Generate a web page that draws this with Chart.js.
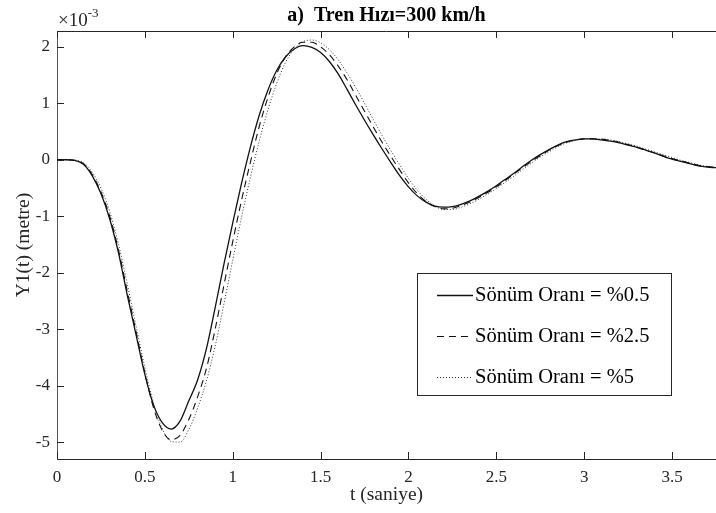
<!doctype html>
<html>
<head>
    <title>Tren Hızı=300 km/h</title>
    <meta charset="utf-8">
    <script src="https://cdn.jsdelivr.net/npm/chart.js@4.4.1/dist/chart.umd.min.js"></script>
    <style>
    body { margin: 0; background: #fff; }
    canvas { display: block; }
    </style>
</head>
<body>
    <canvas id="canvasY1" width="716" height="513"></canvas>
    <script>
        // t (saniye)
        var zaman = [0.00, 0.05, 0.10, 0.15, 0.20, 0.25, 0.30, 0.35, 0.40, 0.45,
                     0.50, 0.55, 0.60, 0.65, 0.70, 0.75, 0.80, 0.85, 0.90, 0.95,
                     1.00, 1.05, 1.10, 1.15, 1.20, 1.25, 1.30, 1.35, 1.40, 1.45,
                     1.50, 1.55, 1.60, 1.65, 1.70, 1.75, 1.80, 1.85, 1.90, 1.95,
                     2.00, 2.05, 2.10, 2.15, 2.20, 2.25, 2.30, 2.35, 2.40, 2.45,
                     2.50, 2.55, 2.60, 2.65, 2.70, 2.75, 2.80, 2.85, 2.90, 2.95,
                     3.00, 3.05, 3.10, 3.15, 3.20, 3.25, 3.30, 3.35, 3.40, 3.45,
                     3.50, 3.55, 3.60, 3.65, 3.70, 3.75];

        // Y1(t) x 10^-3 metre, sönüm oranı %0.5
        var sonum05 = [0, 0, -0.01, -0.08, -0.28, -0.6, -1.05, -1.65, -2.4, -3.1,
                       -3.8, -4.35, -4.66, -4.77, -4.63, -4.27, -3.9, -3.35, -2.62, -1.85,
                       -1.12, -0.42, 0.22, 0.78, 1.23, 1.58, 1.82, 1.96, 2.02, 1.99,
                       1.9, 1.74, 1.52, 1.25, 0.97, 0.7, 0.44, 0.19, -0.05, -0.28,
                       -0.48, -0.64, -0.75, -0.82, -0.84, -0.83, -0.79, -0.73, -0.65, -0.56,
                       -0.46, -0.35, -0.24, -0.12, -0.01, 0.09, 0.18, 0.26, 0.32, 0.35,
                       0.37, 0.37, 0.35, 0.33, 0.3, 0.26, 0.22, 0.17, 0.12, 0.06,
                       0.01, -0.03, -0.07, -0.11, -0.13, -0.14];

        // sönüm oranı %2.5
        var sonum25 = [0, 0, -0.01, -0.07, -0.26, -0.57, -1.0, -1.6, -2.33, -3.05,
                       -3.78, -4.4, -4.8, -4.96, -4.88, -4.6, -4.2, -3.7, -3.0, -2.22,
                       -1.45, -0.72, -0.05, 0.58, 1.1, 1.52, 1.82, 2.0, 2.08, 2.08,
                       2.0, 1.86, 1.66, 1.42, 1.14, 0.86, 0.58, 0.31, 0.06, -0.18,
                       -0.41, -0.6, -0.74, -0.83, -0.87, -0.86, -0.81, -0.75, -0.67, -0.58,
                       -0.48, -0.37, -0.25, -0.14, -0.03, 0.07, 0.17, 0.25, 0.31, 0.35,
                       0.37, 0.37, 0.36, 0.34, 0.31, 0.27, 0.22, 0.17, 0.12, 0.07,
                       0.02, -0.02, -0.06, -0.1, -0.12, -0.14];

        // sönüm oranı %5
        var sonum5 = [0, 0, -0.01, -0.05, -0.22, -0.5, -0.92, -1.5, -2.2, -2.95,
                      -3.68, -4.32, -4.77, -4.99, -5.0, -4.78, -4.4, -3.92, -3.3, -2.55,
                      -1.78, -1.02, -0.32, 0.32, 0.88, 1.35, 1.72, 1.96, 2.09, 2.12,
                      2.07, 1.95, 1.77, 1.54, 1.28, 1.0, 0.71, 0.43, 0.16, -0.09,
                      -0.33, -0.54, -0.7, -0.82, -0.88, -0.88, -0.84, -0.78, -0.7, -0.61,
                      -0.51, -0.4, -0.29, -0.17, -0.06, 0.05, 0.14, 0.23, 0.3, 0.34,
                      0.37, 0.37, 0.37, 0.35, 0.32, 0.28, 0.24, 0.19, 0.14, 0.09,
                      0.04, -0.01, -0.05, -0.09, -0.12, -0.14];

        var etiketler = ["Sönüm Oranı = %0.5", "Sönüm Oranı = %2.5", "Sönüm Oranı = %5"];
        var xTikler = [0, 0.5, 1, 1.5, 2, 2.5, 3, 3.5];
        var yTikler = [-5, -4, -3, -2, -1, 0, 1, 2];

        var serif = "'Liberation Serif', 'Times New Roman', serif";
        var koyu = "#262626";

        function noktalar(seri) {
            var out = [];
            for (var i = 0; i < zaman.length; i++) {
                out.push({ x: zaman[i], y: seri[i] });
            }
            return out;
        }

        // MATLAB style: inward ticks, top box line, x10^-3 label, boxed legend
        var matlabStil = {
            id: 'matlabStil',
            afterDraw: function(chart) {
                var ctx = chart.ctx;
                var a = chart.chartArea;
                var xs = chart.scales.x, ys = chart.scales.y;
                ctx.save();
                ctx.strokeStyle = koyu;
                ctx.lineWidth = 1;
                ctx.beginPath();
                ctx.moveTo(a.left, a.top + 0.5);
                ctx.lineTo(a.right, a.top + 0.5);
                for (var i = 0; i < xTikler.length; i++) {
                    var px = Math.round(xs.getPixelForValue(xTikler[i])) + 0.5;
                    ctx.moveTo(px, a.bottom);
                    ctx.lineTo(px, a.bottom - 7);
                    ctx.moveTo(px, a.top);
                    ctx.lineTo(px, a.top + 7);
                }
                for (var j = 0; j < yTikler.length; j++) {
                    var py = Math.round(ys.getPixelForValue(yTikler[j])) + 0.5;
                    ctx.moveTo(a.left, py);
                    ctx.lineTo(a.left + 7, py);
                }
                ctx.stroke();

                // exponent
                ctx.fillStyle = koyu;
                ctx.textBaseline = 'alphabetic';
                ctx.textAlign = 'left';
                ctx.font = "19px " + serif;
                ctx.fillText("\u00d710", a.left + 1, a.top - 5);
                var w = ctx.measureText("\u00d710").width;
                ctx.font = "13px " + serif;
                ctx.fillText("-3", a.left + 1 + w, a.top - 14);

                // legend
                var lx = 417, ly = 273, lw = 254, lh = 122;
                ctx.fillStyle = "#fff";
                ctx.fillRect(lx, ly, lw, lh);
                ctx.strokeStyle = koyu;
                ctx.strokeRect(lx + 0.5, ly + 0.5, lw, lh);
                ctx.font = "20.5px " + serif;
                ctx.textBaseline = 'middle';
                chart.data.datasets.forEach(function(ds, k) {
                    var ry = ly + 22 + k * 41;
                    ctx.save();
                    ctx.strokeStyle = ds.borderColor;
                    ctx.lineWidth = ds.borderWidth;
                    ctx.setLineDash(ds.borderDash || []);
                    ctx.beginPath();
                    ctx.moveTo(lx + 20, ry + 0.5);
                    ctx.lineTo(lx + 56, ry + 0.5);
                    ctx.stroke();
                    ctx.restore();
                    ctx.fillStyle = "#000";
                    ctx.fillText(ds.label, lx + 58, ry + 1);
                });
                ctx.restore();
            }
        };

        var ctx = document.getElementById("canvasY1").getContext("2d");
        window.grafik = new Chart(ctx, {
            type: 'line',
            data: {
                datasets: [
                    {
                        label: etiketler[0],
                        data: noktalar(sonum05),
                        borderColor: "#111",
                        borderWidth: 1.3,
                        pointRadius: 0,
                        cubicInterpolationMode: 'monotone'
                    },
                    {
                        label: etiketler[1],
                        data: noktalar(sonum25),
                        borderColor: "#111",
                        borderWidth: 1.1,
                        borderDash: [7, 5],
                        pointRadius: 0,
                        cubicInterpolationMode: 'monotone'
                    },
                    {
                        label: etiketler[2],
                        data: noktalar(sonum5),
                        borderColor: "#333",
                        borderWidth: 1,
                        borderDash: [1, 2],
                        pointRadius: 0,
                        cubicInterpolationMode: 'monotone'
                    }
                ]
            },
            options: {
                responsive: false,
                animation: false,
                layout: { padding: 0 },
                plugins: {
                    legend: { display: false },
                    tooltip: { enabled: false },
                    title: {
                        display: true,
                        fullSize: false,
                        text: 'a)  Tren Hızı=300 km/h',
                        color: "#000",
                        font: { family: serif, size: 20, weight: 'bold' },
                        padding: { top: 4, bottom: 3 }
                    }
                },
                scales: {
                    x: {
                        type: 'linear',
                        min: 0,
                        max: 3.75,
                        afterFit: function(s) { s.height = 54; },
                        afterBuildTicks: function(s) {
                            s.ticks = xTikler.map(function(v) { return { value: v }; });
                        },
                        grid: { drawOnChartArea: false, drawTicks: false },
                        border: { color: koyu, width: 1 },
                        ticks: {
                            padding: 8,
                            color: koyu,
                            font: { family: serif, size: 17 },
                            callback: function(v) { return String(v); }
                        },
                        title: {
                            display: true,
                            text: 't (saniye)',
                            color: koyu,
                            font: { family: serif, size: 19.5 },
                            padding: { top: 0, bottom: 6 }
                        }
                    },
                    y: {
                        min: -5.3,
                        max: 2.28,
                        afterFit: function(s) { s.width = 57; },
                        afterBuildTicks: function(s) {
                            s.ticks = yTikler.map(function(v) { return { value: v }; });
                        },
                        grid: { drawOnChartArea: false, drawTicks: false },
                        border: { color: "#555", width: 1 },
                        ticks: {
                            padding: 7,
                            color: koyu,
                            font: { family: serif, size: 17 },
                            callback: function(v) { return String(v); }
                        },
                        title: {
                            display: true,
                            text: 'Y1(t) (metre)',
                            color: koyu,
                            font: { family: serif, size: 19.5 },
                            padding: { top: 12, bottom: 0 }
                        }
                    }
                }
            },
            plugins: [matlabStil]
        });
    </script>
</body>
</html>
